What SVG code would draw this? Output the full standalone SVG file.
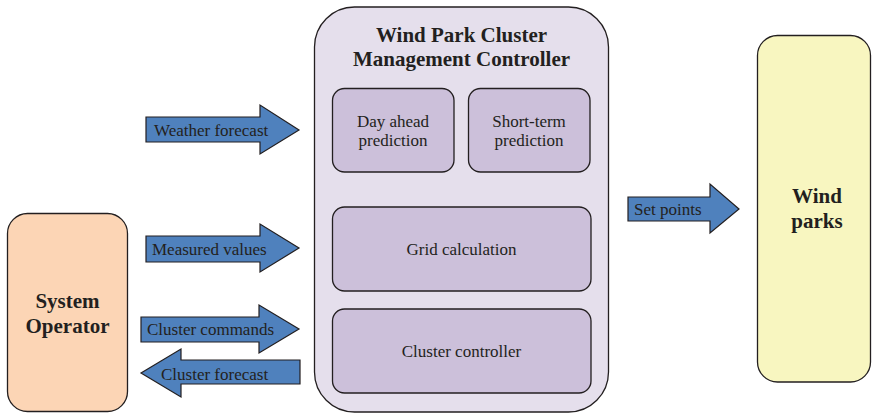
<svg xmlns="http://www.w3.org/2000/svg" width="872" height="413" viewBox="0 0 872 413">
  <rect width="872" height="413" fill="#ffffff"/>

  <!-- outer controller frame and title -->
  <g id="controller">
    <rect x="314.5" y="7" width="294" height="405" rx="40" fill="#e5dfec" stroke="#231f20" stroke-width="1.3"/>
    <text style="font-family:'Liberation Serif',serif;font-size:21px;font-weight:bold" fill="#231f20" text-anchor="middle" x="461.5" y="42">Wind Park Cluster</text>
    <text style="font-family:'Liberation Serif',serif;font-size:21px;font-weight:bold" fill="#231f20" text-anchor="middle" x="461.5" y="66">Management Controller</text>
  </g>

  <!-- inner function blocks -->
  <g fill="#ccc0da" stroke="#231f20" stroke-width="1.3">
    <g id="day-ahead">
      <rect x="332.5" y="88.5" width="121.5" height="83.5" rx="12"/>
      <text style="font-family:'Liberation Serif',serif;font-size:17px" fill="#231f20" stroke="none" text-anchor="middle" x="393" y="127">Day ahead</text>
      <text style="font-family:'Liberation Serif',serif;font-size:17px" fill="#231f20" stroke="none" text-anchor="middle" x="393" y="146">prediction</text>
    </g>
    <g id="short-term">
      <rect x="468.5" y="88.5" width="121.5" height="83.5" rx="12"/>
      <text style="font-family:'Liberation Serif',serif;font-size:17px" fill="#231f20" stroke="none" text-anchor="middle" x="529" y="127">Short-term</text>
      <text style="font-family:'Liberation Serif',serif;font-size:17px" fill="#231f20" stroke="none" text-anchor="middle" x="529" y="146">prediction</text>
    </g>
    <g id="grid-calculation">
      <rect x="332.5" y="207" width="258.5" height="84" rx="12"/>
      <text style="font-family:'Liberation Serif',serif;font-size:17px" fill="#231f20" stroke="none" text-anchor="middle" x="461.5" y="255">Grid calculation</text>
    </g>
    <g id="cluster-controller">
      <rect x="332.5" y="309" width="258.5" height="84" rx="12"/>
      <text style="font-family:'Liberation Serif',serif;font-size:17px" fill="#231f20" stroke="none" text-anchor="middle" x="461.5" y="357">Cluster controller</text>
    </g>
  </g>

  <g id="system-operator">
    <rect x="7.5" y="213.5" width="120" height="198" rx="20" fill="#fcd5b5" stroke="#231f20" stroke-width="1.3"/>
    <text style="font-family:'Liberation Serif',serif;font-size:21px;font-weight:bold" fill="#231f20" text-anchor="middle" x="67.5" y="308">System</text>
    <text style="font-family:'Liberation Serif',serif;font-size:21px;font-weight:bold" fill="#231f20" text-anchor="middle" x="67.5" y="333">Operator</text>
  </g>

  <g id="wind-parks">
    <rect x="757.5" y="35.5" width="113" height="346.5" rx="20" fill="#f8f6c0" stroke="#231f20" stroke-width="1.3"/>
    <text style="font-family:'Liberation Serif',serif;font-size:21px;font-weight:bold" fill="#231f20" text-anchor="middle" x="817" y="203">Wind</text>
    <text style="font-family:'Liberation Serif',serif;font-size:21px;font-weight:bold" fill="#231f20" text-anchor="middle" x="817" y="228">parks</text>
  </g>

  <!-- block arrows carrying the data flows -->
  <g id="connectors">
    <g fill="#4f81bd" stroke="#231f20" stroke-width="1.2">
      <polygon id="weather-forecast" points="146,117 260,117 260,105 299,130 260,154 260,142 146,142"/>
      <polygon id="measured-values" points="146,236 260,236 260,224 299,248 260,272 260,262 146,262"/>
      <polygon id="cluster-commands" points="141,317 259,317 259,305 299,329 259,353 259,342 141,342"/>
      <polygon id="cluster-forecast" points="300,360 181,360 181,349 141,373 181,397 181,384 300,384"/>
      <polygon id="set-points" points="628,197 710,197 710,184 739,209 710,233 710,221 628,221"/>
    </g>
    <text style="font-family:'Liberation Serif',serif;font-size:17px" fill="#231f20" x="154" y="136">Weather forecast</text>
    <text style="font-family:'Liberation Serif',serif;font-size:17px" fill="#231f20" x="152" y="255">Measured values</text>
    <text style="font-family:'Liberation Serif',serif;font-size:17px" fill="#231f20" x="147" y="335">Cluster commands</text>
    <text style="font-family:'Liberation Serif',serif;font-size:17px" fill="#231f20" x="161" y="380">Cluster forecast</text>
    <text style="font-family:'Liberation Serif',serif;font-size:17px" fill="#231f20" x="634" y="215">Set points</text>
  </g>
</svg>
